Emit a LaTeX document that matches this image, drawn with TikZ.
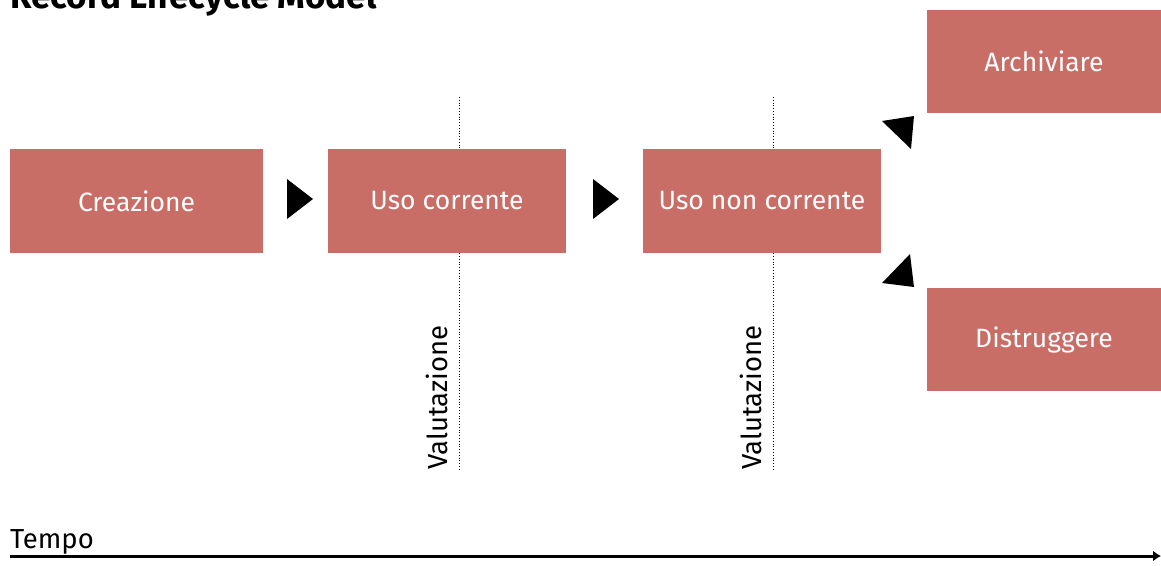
\documentclass[tikz,border=0pt]{standalone}
\usepackage{fontspec}
\setmainfont{Fira Sans}
\usetikzlibrary{arrows.meta}
\begin{document}
\begin{tikzpicture}[x=1pt,y=-1pt,
  stage/.style={fill=boxred, draw=none, inner sep=0pt, text=white,
    font=\fontsize{26.5}{30}\selectfont},
  marker/.style={fill=black, draw=none},
  gate/.style={draw=black, line width=0.8pt, dotted},
  lbl/.style={font=\fontsize{27.5}{30}\selectfont, inner sep=0pt}]
\definecolor{boxred}{HTML}{C96D67}
\useasboundingbox (0,0) rectangle (1161,565);

% title, partly above the page edge
\node[anchor=base west, inner sep=0pt, font=\bfseries\fontsize{35}{38}\selectfont] (title) at (10,8) {Record Lifecycle Model};

% stages (text lowered slightly inside each box)
\node[stage, minimum width=253pt, minimum height=104pt] (crea) at (136.5,201) {\raisebox{-3pt}{Creazione}};
\node[stage, minimum width=238pt, minimum height=104pt] (uso) at (447,201) {\raisebox{-3pt}{Uso corrente}};
\node[stage, minimum width=238pt, minimum height=104pt] (nonuso) at (762,201) {\raisebox{-3pt}{Uso non corrente}};
\node[stage, minimum width=234pt, minimum height=103pt] (arch) at (1044,61.5) {\raisebox{-2pt}{Archiviare}};
\node[stage, minimum width=234pt, minimum height=103pt] (dist) at (1044,339.5) {\raisebox{-3pt}{Distruggere}};

% transition markers
\fill[marker] (287,179) -- (313,199) -- (287,219) -- cycle;
\fill[marker] (593,179) -- (619,199) -- (593,219) -- cycle;
\fill[marker] (882,121) -- (914,116) -- (911,149) -- cycle;
\fill[marker] (882,283) -- (910,254) -- (914,287) -- cycle;

% appraisal gates
\coordinate (g1t) at (459,97);
\coordinate (g1b) at (459,470);
\coordinate (g2t) at (773,97);
\coordinate (g2b) at (773,470);
\draw[gate] (g1t) -- (uso.north -| g1t);
\draw[gate] (uso.south -| g1b) -- (g1b);
\draw[gate] (g2t) -- (nonuso.north -| g2t);
\draw[gate] (nonuso.south -| g2b) -- (g2b);
\node[lbl, rotate=90, anchor=base west] (v1) at (447,470) {Valutazione};
\node[lbl, rotate=90, anchor=base west] (v2) at (761,470) {Valutazione};

% time axis
\node[lbl, anchor=base west] (tempo) at (10,548) {Tempo};
\coordinate (t0) at (10,556);
\coordinate (t1) at (1161,556);
\draw[line width=3pt, -{Latex[length=8pt,width=11pt]}] (t0) -- (t1);
\end{tikzpicture}
\end{document}
